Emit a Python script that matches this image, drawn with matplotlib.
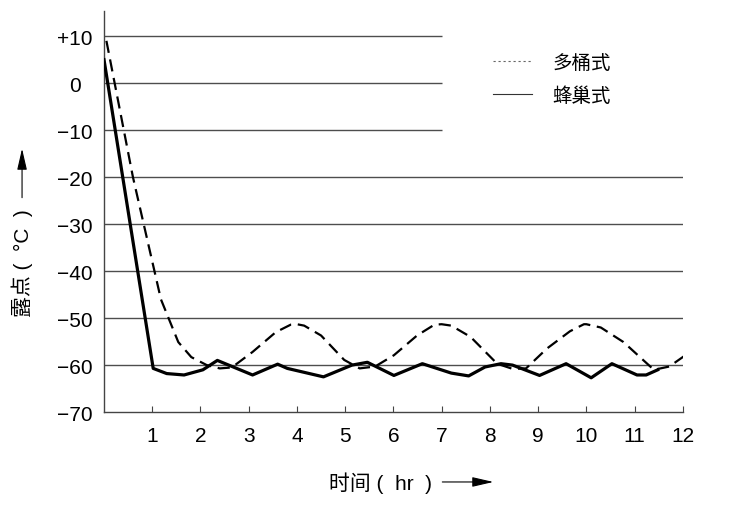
import matplotlib.pyplot as plt
from matplotlib.lines import Line2D

plt.rcParams['font.family'] = ['Liberation Sans', 'Noto Sans CJK SC', 'DejaVu Sans']

# 多桶式 (dashed)
duotong_x = [0.05, 0.6, 1.18, 1.54, 1.81, 2.13, 2.4, 2.65, 3.08, 3.56, 3.87, 4.0, 4.15, 4.5, 4.98,
             5.3, 5.62, 6.01, 6.49, 6.85, 7.0, 7.2, 7.6, 8.15, 8.47, 8.75, 9.18, 9.66, 9.95, 10.0,
             10.3, 10.77, 11.4, 11.72, 12.04]
duotong_y = [9, -20, -46, -55.1, -58.3, -60.0, -60.7, -60.5, -57.2, -53.0, -51.4, -51.3, -51.6, -53.7, -58.9,
             -60.7, -60.3, -57.9, -53.7, -51.4, -51.3, -51.6, -54.0, -59.7, -60.8, -60.7, -56.5, -52.8, -51.3, -51.3,
             -52.0, -55.1, -61.0, -60.3, -58.0]

# 蜂巢式 (solid)
fengchao_x = [0.0, 1.02, 1.3, 1.66, 2.05, 2.35, 3.08, 3.6, 3.8, 4.55, 5.14, 5.46, 6.01, 6.6, 7.2, 7.56,
              7.9, 8.23, 8.47, 9.03, 9.58, 10.1, 10.53, 11.05, 11.24, 11.48]
fengchao_y = [5, -60.7, -61.8, -62.1, -61.0, -59.0, -62.1, -59.8, -60.7, -62.5, -60.0, -59.4, -62.2, -59.7, -61.7, -62.3,
              -60.4, -59.7, -60.0, -62.2, -59.7, -62.7, -59.7, -62.1, -62.1, -61.0]

grid_short = [10, 0, -10]
grid_long = [-20, -30, -40, -50, -60]
y_ticks = [10, 0, -10, -20, -30, -40, -50, -60, -70]
y_labels = ['+10', '0', '\u221210', '\u221220', '\u221230', '\u221240', '\u221250', '\u221260', '\u221270']
x_ticks = list(range(1, 13))

fig = plt.figure(figsize=(7.35, 5.1), dpi=100)
ax = fig.add_axes([0.1415, 0.19, 0.7875, 0.786])

ax.hlines(grid_short, 0, 7, color='#4d4d4d', lw=1.0, zorder=1)
ax.hlines(grid_long, 0, 12, color='#4d4d4d', lw=1.0, zorder=1)

ax.plot(duotong_x, duotong_y, color='black', lw=1.6, dashes=(5.5, 3), zorder=3)
ax.plot(fengchao_x, fengchao_y, color='black', lw=2.3, zorder=4)

ax.set_xlim(0, 12)
ax.set_ylim(-70, 15.3)
for s in ['top', 'right']:
    ax.spines[s].set_visible(False)
for s in ['left', 'bottom']:
    ax.spines[s].set_color('#444444')
    ax.spines[s].set_linewidth(1.0)

ax.set_xticks(x_ticks)
ax.set_xticklabels([str(t) for t in x_ticks], fontsize=15)
ax.tick_params(axis='x', direction='in', length=4, color='#444444', pad=10)
ax.set_yticks(y_ticks)
ax.set_yticklabels(y_labels, fontsize=15)
ax.tick_params(axis='y', length=0, pad=21)
for lab in ax.get_yticklabels():
    lab.set_horizontalalignment('center')

handles = [Line2D([], [], color='#666666', lw=0.8, dashes=(2, 2.5)),
           Line2D([], [], color='#333333', lw=0.8)]
ax.legend(handles, ['多桶式', '蜂巢式'], loc='upper left', bbox_to_anchor=(0.655, 0.918),
          frameon=False, fontsize=14, handlelength=2.0, labelspacing=0.75, borderpad=0,
          handletextpad=1.05)

# axis labels with arrows
fig.text(0.03, 0.484, '露点 (  °C  )', rotation=90, ha='center', va='center', fontsize=15)
ax.annotate('', xy=(0.03, 0.712), xytext=(0.03, 0.605), xycoords='figure fraction',
            arrowprops=dict(arrowstyle='-|>,head_length=1.3,head_width=0.3', color='black', lw=0.8))
fig.text(0.518, 0.052, '时间 (  hr  )', ha='center', va='center', fontsize=15)
ax.annotate('', xy=(0.675, 0.053), xytext=(0.598, 0.053), xycoords='figure fraction',
            arrowprops=dict(arrowstyle='-|>,head_length=1.3,head_width=0.3', color='black', lw=0.8))

fig.savefig('out.png', dpi=100)
